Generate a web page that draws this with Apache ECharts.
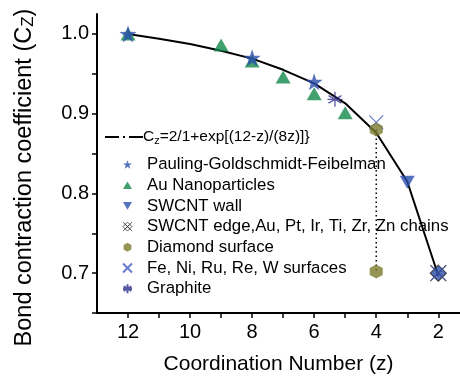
<!DOCTYPE html>
<html><head><meta charset="utf-8">
<script src="https://cdn.jsdelivr.net/npm/echarts@6/dist/echarts.min.js"></script>
<style>html,body{margin:0;padding:0;background:#fff}#c{width:460px;height:382px}</style>
</head><body><div id="c"></div>
<script>
// ---- data ----
const xTicks = [2,3,4,5,6,7,8,9,10,11,12];
const xLabels = [2,4,6,8,10,12];
const yTicks = [0.65,0.70,0.75,0.80,0.85,0.90,0.95,1.00];
const yLabels = [0.7,0.8,0.9,1.0];
const curveZ = [12,11,10,9,8,7,6,5,4,3,2];
const curveC = [1.000,0.994,0.9875,0.979,0.969,0.955,0.938,0.913,0.876,0.815,0.697];
const paulingZ = [12,8,6];
const paulingC = [1.000,0.970,0.940];
const auZ = [12,9,8,7,6,5];
const auC = [1.000,0.986,0.966,0.946,0.925,0.901];
const wallZ = [3];
const wallC = [0.814];
const edgeZ = [2];
const edgeC = [0.700];
const diamondZ = [4,4];
const diamondC = [0.880,0.702];
const feZ = [4,2];
const feC = [0.889,0.700];
const graphiteZ = [5.33];
const graphiteC = [0.918];
const dropZ = [4,4];
const dropC = [0.880,0.702];

const pairs = (xs, ys) => xs.map((x,i)=>[x, ys[i]]);
const FONT = '"Liberation Sans", Arial, Helvetica, sans-serif';
const STAR = 'path://M0,-10 L2.35,-3.24 L9.51,-3.09 L3.80,1.24 L5.88,8.09 L0,4 L-5.88,8.09 L-3.80,1.24 L-9.51,-3.09 L-2.35,-3.24 Z';
const DTRI = 'path://M-10,-8 L10,-8 L0,9 Z';
const UTRI = 'path://M0,-9 L10,8 L-10,8 Z';
const HEX = 'path://M0,-10 L8.66,-5 L8.66,5 L0,10 L-8.66,5 L-8.66,-5 Z';
const XS = 'path://M-10,-10 L10,10 M10,-10 L-10,10';
const AST = 'path://M0,-10 L0,10 M-8.66,-5 L8.66,5 M-8.66,5 L8.66,-5 M-10,0 L10,0';
const XDIA = 'path://M0,-10 L10,0 L0,10 L-10,0 Z M-5,-5 L5,5 M5,-5 L-5,5 M-10,-10 L10,10 M10,-10 L-10,10';
const LINEICON = 'path://M0,0 H14 V2 H0 Z M18,0 H20 V2 H18 Z M24,0 H38 V2 H24 Z';

const chart = echarts.init(document.getElementById('c'), null, {renderer:'canvas'});
chart.setOption({
  animation: false,
  backgroundColor: '#fff',
  textStyle: {fontFamily: FONT},
  grid: {left: 97, right: 0, top: 14, bottom: 69, containLabel: false},
  xAxis: {
    type: 'value', inverse: true, min: 1.3, max: 13,
    name: 'Coordination Number (z)', nameLocation: 'middle', nameGap: 41,
    nameTextStyle: {fontSize: 21, color: '#000', fontFamily: FONT},
    axisLine: {show: true, onZero: false, lineStyle: {color: '#000', width: 2}},
    axisTick: {show: true, inside: false, length: 5, lineStyle: {color: '#000', width: 1.5}, customValues: xTicks},
    axisLabel: {fontSize: 20, color: '#000', margin: 9, fontFamily: FONT, customValues: xLabels},
    splitLine: {show: false}
  },
  yAxis: {
    type: 'value', min: 0.65, max: 1.025,
    name: 'Bond contraction coefficient (C{s|Z})',
    nameLocation: 'middle', nameGap: 60, nameRotate: 90,
    nameTextStyle: {fontSize: 23.5, color: '#000', fontFamily: FONT, padding: [0, 28, 0, 0],
      rich: {s: {fontSize: 17, fontFamily: FONT, color:'#000', verticalAlign: 'bottom', padding:[6,0,0,0]}}},
    axisLine: {show: true, onZero: false, lineStyle: {color: '#000', width: 2}},
    axisTick: {show: true, inside: false, length: 5, lineStyle: {color: '#000', width: 1.5}, customValues: yTicks},
    axisLabel: {fontSize: 20, color: '#000', margin: 8, fontFamily: FONT, customValues: yLabels,
      formatter: v => v.toFixed(1)},
    splitLine: {show: false}
  },
  legend: [
    {
      orient: 'vertical', left: 100, top: 124, itemWidth: 38, itemHeight: 2,
      icon: LINEICON, itemGap: 0,
      textStyle: {fontSize: 15.5, color: '#000', fontFamily: FONT, padding: [0,0,0,-5],
        rich: {a: {fontSize: 15.5, fontFamily: FONT, color:'#000'}, s: {fontSize: 11, fontFamily: FONT, color:'#000', verticalAlign:'bottom', padding:[7,0,0,0]}}},
      formatter: n => '{a|C}{s|z}{a|=2/1+exp[(12-z)/(8z)]}}',
      data: ['curve']
    },
    {
      orient: 'vertical', left: 115.5, top: 151, itemWidth: 9, itemHeight: 9, itemGap: 3.7,
      textStyle: {fontSize: 16.8, lineHeight: 16.5, color: '#000', fontFamily: FONT, padding: [0,0,0,10]},
      data: [
        {name: 'Pauling-Goldschmidt-Feibelman'},
        {name: 'Au Nanoparticles'},
        {name: 'SWCNT wall'},
        {name: 'SWCNT edge,Au, Pt, Ir, Ti, Zr, Zn chains', itemStyle: {color: '#fff', borderColor: '#333', borderWidth: 1}},
        {name: 'Diamond surface'},
        {name: 'Fe, Ni, Ru, Re, W surfaces'},
        {name: 'Graphite'}
      ]
    }
  ],
  series: [
    {name: 'curve', type: 'line', data: pairs(curveZ, curveC), showSymbol: false, symbol: 'none',
      lineStyle: {color: '#000', width: 2}, itemStyle: {color: '#000'}, z: 2},
    {name: 'drop', type: 'line', data: pairs(dropZ, dropC), showSymbol: false, symbol: 'none',
      lineStyle: {color: '#000', width: 1.5, type: [1.5, 3]}, z: 1},
    {name: 'Au Nanoparticles', type: 'scatter', data: pairs(auZ, auC), symbol: UTRI, symbolSize: [15,13],
      itemStyle: {color: '#11884a'}, z: 3},
    {name: 'Pauling-Goldschmidt-Feibelman', type: 'scatter', data: pairs(paulingZ, paulingC), symbol: STAR, symbolSize: 17,
      itemStyle: {color: '#2a4fad'}, z: 4},
    {name: 'SWCNT wall', type: 'scatter', data: pairs(wallZ, wallC), symbol: DTRI, symbolSize: [15,13],
      itemStyle: {color: '#2a4fad'}, z: 4},
    {name: 'SWCNT edge,Au, Pt, Ir, Ti, Zr, Zn chains', type: 'scatter', data: pairs(edgeZ, edgeC), symbol: XDIA, symbolSize: 16,
      itemStyle: {color: '#2a4fad', borderColor: '#222', borderWidth: 1.2}, z: 4},
    {name: 'Diamond surface', type: 'scatter', data: pairs(diamondZ, diamondC), symbol: HEX, symbolSize: [13,14],
      itemStyle: {color: '#7b7b2e'}, z: 5},
    {name: 'Fe, Ni, Ru, Re, W surfaces', type: 'scatter', data: pairs(feZ, feC), symbol: XS, symbolSize: 14,
      itemStyle: {color: 'none', borderColor: '#4257c4', borderWidth: 1.2}, z: 4},
    {name: 'Graphite', type: 'scatter', data: pairs(graphiteZ, graphiteC), symbol: AST, symbolSize: 15,
      itemStyle: {color: 'none', borderColor: '#2e2e8c', borderWidth: 1.3}, z: 4}
  ]
});
</script></body></html>
